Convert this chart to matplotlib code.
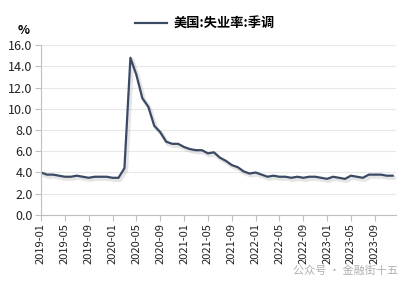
import matplotlib
matplotlib.use("Agg")
import matplotlib.pyplot as plt
import matplotlib.patheffects as pe
from matplotlib.lines import Line2D
import numpy as np

plt.rcParams['font.family'] = ['Noto Sans CJK SC', 'DejaVu Sans']

months = [f"{y}-{m:02d}" for y in range(2019, 2024) for m in range(1, 13)]
unemp = [4.0, 3.8, 3.8, 3.7, 3.6, 3.6, 3.7, 3.6, 3.5, 3.6, 3.6, 3.6,
         3.5, 3.5, 4.4, 14.8, 13.2, 11.0, 10.2, 8.4, 7.8, 6.9, 6.7, 6.7,
         6.4, 6.2, 6.1, 6.1, 5.8, 5.9, 5.4, 5.1, 4.7, 4.5, 4.1, 3.9,
         4.0, 3.8, 3.6, 3.7, 3.6, 3.6, 3.5, 3.6, 3.5, 3.6, 3.6, 3.5,
         3.4, 3.6, 3.5, 3.4, 3.7, 3.6, 3.5, 3.8, 3.8, 3.8, 3.7, 3.7]
series_name = "美国:失业率:季调"
yticks = np.arange(0, 16.1, 2.0)

fig = plt.figure(figsize=(4.10, 2.87), dpi=100)
ax = fig.add_axes([0.100, 0.251, 0.865, 0.592])

x = np.arange(len(months))
ax.plot(x, unemp, color='#3b4a64', lw=1.6,
        path_effects=[pe.SimpleLineShadow(offset=(1.2, -1.5), shadow_color='#999999', alpha=0.25, linewidth=3),
                      pe.Normal()])

ax.set_xlim(0, len(months) - 0.5)
ax.set_ylim(0, 16)
ax.set_yticks(yticks)
ax.set_yticklabels([f"{v:.1f}" for v in yticks], fontsize=9)
tick_idx = list(range(0, len(months), 4))
ax.set_xticks(tick_idx)
ax.set_xticklabels([months[i] for i in tick_idx], rotation=90, fontsize=8)

ax.grid(axis='y', color='#e8e8e8', lw=0.8)
ax.set_axisbelow(True)
for s in ['top', 'right']:
    ax.spines[s].set_visible(False)
for s in ['left', 'bottom']:
    ax.spines[s].set_color('#bfbfbf')
ax.tick_params(axis='x', colors='#bfbfbf', length=4, labelcolor='#222222', pad=2)
ax.tick_params(axis='y', colors='#bfbfbf', length=4, labelcolor='#222222', pad=2)

handle = Line2D([], [], color='#3b4a64', lw=1.6)
fig.legend([handle], [series_name], loc='upper center', bbox_to_anchor=(0.5, 0.985), frameon=False,
           prop={'weight': 'bold', 'size': 9.5}, handlelength=2.4, handletextpad=0.5)
fig.text(0.058, 0.895, "%", fontsize=9, ha='center', va='center', weight='bold')
fig.text(0.97, 0.055, "公众号 · 金融街十五", fontsize=8, color='#b0b0b0', ha='right', va='center')

fig.savefig("out.png", dpi=100)
